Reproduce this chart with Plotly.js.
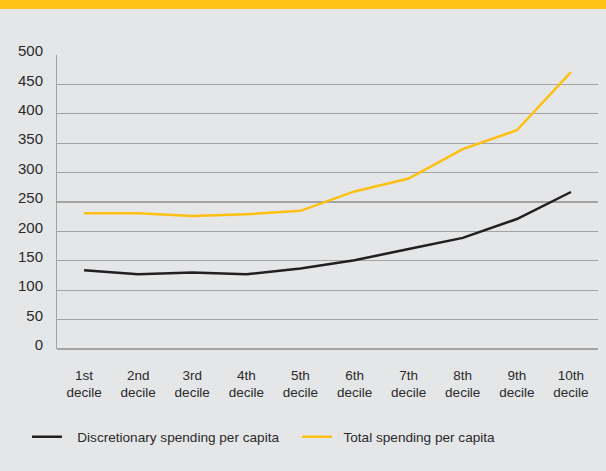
<!DOCTYPE html>
<html><head><meta charset="utf-8">
<script src="https://cdn.plot.ly/plotly-3.0.1.min.js"></script>
<style>
html,body{margin:0;padding:0;background:#e5e6e8;width:606px;height:471px;overflow:hidden;}
#bar{position:absolute;left:0;top:0;width:606px;height:9px;background:#fec214;}
#chart{position:absolute;left:0;top:0;width:606px;height:471px;}
</style></head>
<body>
<div id="chart"></div>
<div id="bar"></div>
<script>
const categories = ["1st<br>decile","2nd<br>decile","3rd<br>decile","4th<br>decile","5th<br>decile","6th<br>decile","7th<br>decile","8th<br>decile","9th<br>decile","10th<br>decile"];
const discretionary = [134, 127, 130, 127, 137, 151, 170, 189, 221, 267];
const total = [231, 231, 226, 229, 235, 268, 290, 340, 372, 471];
const yTicks = [0, 50, 100, 150, 200, 250, 300, 350, 400, 450, 500];
const seriesNames = ['Discretionary spending per capita', 'Total spending per capita'];

const traces = [
  {x: categories, y: discretionary, type: 'scatter', mode: 'lines', name: '\u00a0\u00a0\u2009' + seriesNames[0],
   line: {color: '#231f20', width: 2.5}},
  {x: categories, y: total, type: 'scatter', mode: 'lines', name: '\u00a0\u2009' + seriesNames[1],
   line: {color: '#fcbf12', width: 2.5}}
];
const layout = {
  width: 606, height: 471,
  paper_bgcolor: '#e5e6e8', plot_bgcolor: '#e5e6e8',
  margin: {l: 57, r: 8, t: 55, b: 122},
  font: {family: 'Liberation Sans, Arial, sans-serif', size: 13.5, color: '#2a2a2a'},
  showlegend: true,
  legend: {orientation: 'h', x: -0.0555, xanchor: 'left',
           y: -0.299, yanchor: 'middle', entrywidth: 225, entrywidthmode: 'pixels',
           font: {size: 13.6, color: '#2a2a2a'}, traceorder: 'normal'},
  xaxis: {type: 'category', range: [-0.5, 9.5], showgrid: false, zeroline: false,
          showline: false, ticks: '', tickfont: {size: 13.5}, ticklabelstandoff: 16, fixedrange: true},
  yaxis: {range: [0, 500], tickvals: yTicks, showgrid: true, gridcolor: '#a3a3a3', gridwidth: 1.3,
          zeroline: true, zerolinecolor: '#a3a3a3', zerolinewidth: 1.3,
          showline: true, linecolor: '#a3a3a3', linewidth: 1,
          ticks: '', ticklabelstandoff: 10, ticklabelshift: -4, tickfont: {size: 15}, fixedrange: true}
};
Plotly.newPlot('chart', traces, layout, {displayModeBar: false, staticPlot: true});
</script>
</body></html>
